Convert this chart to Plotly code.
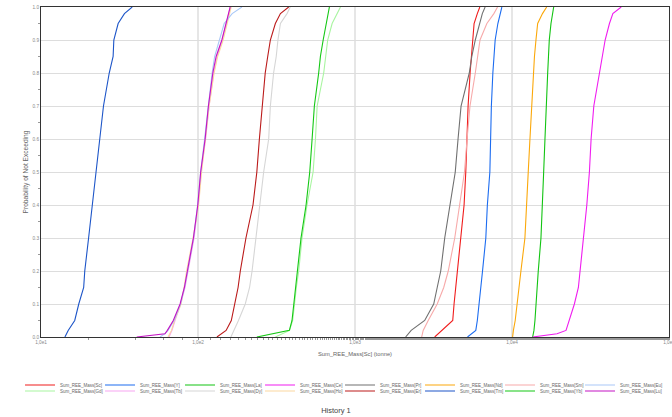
import plotly.graph_objects as go

# Cumulative probability levels shared by every curve
prob = [0, 0.01, 0.02, 0.05, 0.1, 0.15, 0.2, 0.3, 0.4, 0.5,
        0.6, 0.7, 0.8, 0.85, 0.9, 0.95, 0.98, 1.0]

# Total mass of each rare earth element (tonne) at the levels above
mass_sc = [3219, 3388, 3567, 4193, 4275, 4383, 4494, 4717, 4952, 5077,
           5152, 5252, 5409, 5504, 5626, 5735, 6013, 6237]
mass_gd = [311, 343, 383, 401, 411, 423, 438, 460, 495, 541,
           560, 574, 632, 648, 670, 715, 770, 808]
mass_y = [5206, 5545, 5881, 6013, 6146, 6329, 6491, 6812, 6967, 7227,
          7300, 7389, 7551, 7665, 7812, 8128, 8372, 8620]
mass_tb = [65.4, 66.8, 68.3, 71.4, 77.4, 82.7, 86.5, 94.4, 100.1, 104.7,
           111.8, 117.7, 125.8, 132.4, 142.5, 152.3, 156.8, 160.3]
mass_la = [13536, 13658, 13797, 14002, 14210, 14421, 14699, 15291, 15679, 15912,
           16219, 16460, 16876, 17076, 17277, 17716, 18113, 18432]
mass_dy = [162, 166, 170, 181, 200, 213, 221, 234, 249, 262,
           282, 289, 303, 315, 323, 335, 369, 387]
mass_ce = [13536, 19346, 22088, 23192, 24966, 26475, 27147, 28244, 29957, 31117,
           31900, 33196, 36047, 37512, 39198, 41755, 43894, 49597]
mass_ho = [64.4, 66.4, 67.8, 70.9, 78.0, 81.5, 84.6, 93.0, 100.9, 105.4,
           111.8, 117.7, 126.7, 133.4, 144.6, 153.4, 158.0, 162.7]
mass_pr = [2101, 2196, 2279, 2779, 3172, 3339, 3516, 3728, 4012, 4351,
           4533, 4738, 5346, 5545, 5838, 6191, 6471, 6743]
mass_er = [132, 142, 151, 163, 171, 180, 186, 202, 224, 237,
           246, 258, 268, 278, 289, 311, 335, 378]
mass_nd = [10088, 10133, 10207, 10481, 10748, 11069, 11398, 12087, 12449, 12689,
           13011, 13341, 13599, 13900, 14210, 14571, 15639, 16635]
mass_tm = [14.2, 14.5, 14.9, 16.4, 17.4, 18.7, 19.0, 20.1, 21.2, 22.4,
           23.5, 25.0, 27.2, 28.8, 29.1, 31.0, 34.0, 38.1]
mass_sm = [2658, 2678, 2718, 2926, 3339, 3674, 3926, 4318, 4649, 4981,
           5175, 5400, 5838, 6013, 6255, 6916, 7665, 8091]
mass_yb = [237, 305, 382, 397, 407, 421, 431, 453, 488, 515,
           533, 551, 587, 602, 627, 655, 670, 687]
mass_eu = [57.3, 61.6, 64.4, 70.4, 77.4, 82.1, 85.8, 93.7, 99.4, 103.9,
           110.2, 116.0, 123.0, 127.6, 137.0, 146.8, 165.1, 190.4]
mass_lu = [40.7, 61.6, 63.8, 69.6, 76.9, 81.9, 85.6, 93.5, 99.7, 104.0,
           111.0, 116.5, 124.3, 130.5, 141.9, 151.1, 156.3, 160.3]

# Axis tick labels
x_tick_vals = [10, 100, 1000, 10000, 100000]
x_tick_text = ["1,0e1", "1,0e2", "1,0e3", "1,0e4", "1,0e5"]

# Series in legend order (column by column, two rows)
series = [
    ("Sum_REE_Mass[Sc]", mass_sc), ("Sum_REE_Mass[Gd]", mass_gd),
    ("Sum_REE_Mass[Y]", mass_y), ("Sum_REE_Mass[Tb]", mass_tb),
    ("Sum_REE_Mass[La]", mass_la), ("Sum_REE_Mass[Dy]", mass_dy),
    ("Sum_REE_Mass[Ce]", mass_ce), ("Sum_REE_Mass[Ho]", mass_ho),
    ("Sum_REE_Mass[Pr]", mass_pr), ("Sum_REE_Mass[Er]", mass_er),
    ("Sum_REE_Mass[Nd]", mass_nd), ("Sum_REE_Mass[Tm]", mass_tm),
    ("Sum_REE_Mass[Sm]", mass_sm), ("Sum_REE_Mass[Yb]", mass_yb),
    ("Sum_REE_Mass[Eu]", mass_eu), ("Sum_REE_Mass[Lu]", mass_lu),
]

line_colors = {
    "Sum_REE_Mass[Sc]": "#f01c1c", "Sum_REE_Mass[Gd]": "#a8f5a0",
    "Sum_REE_Mass[Y]": "#1c6cf0", "Sum_REE_Mass[Tb]": "#f7a6f2",
    "Sum_REE_Mass[La]": "#12c412", "Sum_REE_Mass[Dy]": "#d6d6d6",
    "Sum_REE_Mass[Ce]": "#f01cf0", "Sum_REE_Mass[Ho]": "#fbd7a0",
    "Sum_REE_Mass[Pr]": "#707070", "Sum_REE_Mass[Er]": "#bb1a1a",
    "Sum_REE_Mass[Nd]": "#fba80a", "Sum_REE_Mass[Tm]": "#1d55c8",
    "Sum_REE_Mass[Sm]": "#f7aaaa", "Sum_REE_Mass[Yb]": "#14c814",
    "Sum_REE_Mass[Eu]": "#a9c8f7", "Sum_REE_Mass[Lu]": "#c414c4",
}

fig = go.Figure()
for i, (name, values) in enumerate(series):
    last_in_row = i >= len(series) - 2
    fig.add_trace(go.Scatter(
        x=values, y=prob, mode="lines", name=name,
        line=dict(color=line_colors[name], width=1.1),
        legend="legend" if i % 2 == 0 else "legend2",
        # the final entry of each row gets room for its full label
        legendwidth=55 if last_in_row else None,
        hoverinfo="skip",
    ))

font_family = "Liberation Sans, Arial, sans-serif"
legend_style = dict(
    orientation="h", xanchor="left", yanchor="middle", x=-0.0334,
    entrywidth=35, entrywidthmode="pixels",
    bgcolor="rgba(0,0,0,0)", borderwidth=0,
    font=dict(family=font_family, size=4.5, color="#666666"),
)

fig.update_layout(
    width=672, height=417,
    margin=dict(l=41, r=3, t=7, b=80, autoexpand=False),
    paper_bgcolor="white", plot_bgcolor="white",
    font=dict(family=font_family, color="#666666"),
    showlegend=True,
    legend=dict(legend_style, y=-0.1455),
    legend2=dict(legend_style, y=-0.1636),
    title=dict(text="History 1", x=0.5, xref="container", xanchor="center",
               y=(417 - 410) / 417, yref="container", yanchor="middle",
               font=dict(family=font_family, size=7.5, color="#444444")),
    xaxis=dict(
        type="log", range=[1, 5],
        tickvals=x_tick_vals, ticktext=x_tick_text,
        tickfont=dict(size=4.7, color="#888888"),
        ticklabeloverflow="allow",
        showgrid=True, gridcolor="#e6e6e6", gridwidth=2,
        showline=True, linecolor="#333333", linewidth=1, mirror=True,
        ticks="", zeroline=False,
        minor=dict(ticks="outside", ticklen=2, tickcolor="#999999", showgrid=False),
        title=dict(text="Sum_REE_Mass[Sc] (tonne)", standoff=8,
                   font=dict(size=5.8, color="#666666")),
    ),
    yaxis=dict(
        range=[0, 1], dtick=0.1, tickformat=".1f",
        tickfont=dict(size=4.7, color="#888888"),
        showgrid=True, gridcolor="#dddddd", gridwidth=1,
        showline=True, linecolor="#333333", linewidth=1, mirror=True,
        ticks="", zeroline=False,
        minor=dict(ticks="outside", ticklen=2, dtick=0.05, tickcolor="#999999",
                   showgrid=False),
        title=dict(text="Probability of Not Exceeding", standoff=3,
                   font=dict(size=6.6, color="#666666")),
    ),
)

fig.write_html("out.html")
